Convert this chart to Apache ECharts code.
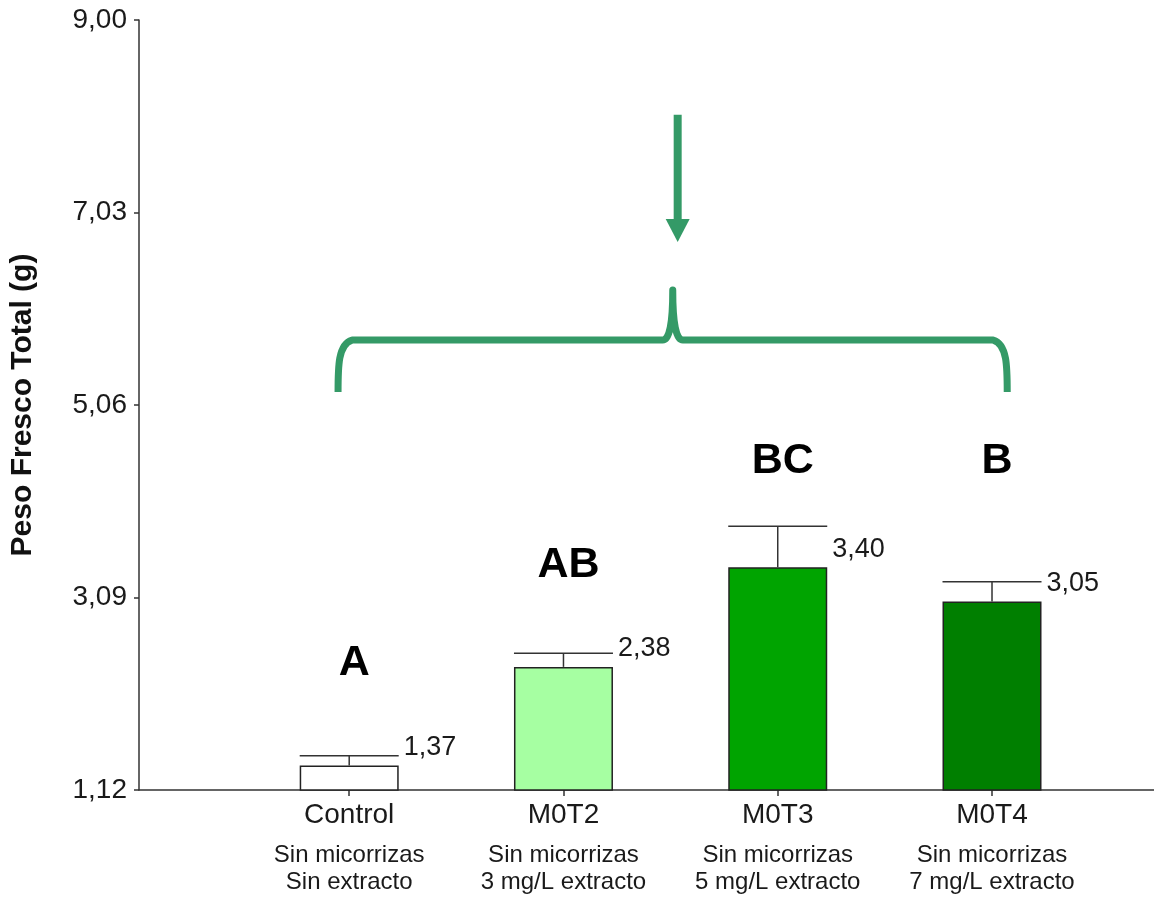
<!DOCTYPE html>
<html>
<head>
<meta charset="utf-8">
<script src="https://cdn.jsdelivr.net/npm/echarts@6/dist/echarts.min.js"></script>
<style>
  html, body { margin: 0; padding: 0; background: #ffffff; }
  #chart { width: 1154px; height: 901px; }
</style>
</head>
<body>
<div id="chart"></div>
<script>
// Peso fresco total por tratamiento (media ± error)
const categories = ['Control', 'M0T2', 'M0T3', 'M0T4'];
const treatmentLine1 = ['Sin micorrizas', 'Sin micorrizas', 'Sin micorrizas', 'Sin micorrizas'];
const treatmentLine2 = ['Sin extracto', '3 mg/L extracto', '5 mg/L extracto', '7 mg/L extracto'];
const meanWeight = [1.37, 2.38, 3.40, 3.05];
const errorWeight = [0.10, 0.14, 0.42, 0.20];
const groupLetters = ['A', 'AB', 'BC', 'B'];
const yTicks = [1.12, 3.09, 5.06, 7.03, 9.00];

// Styling
const barColors = ['#ffffff', '#a6ffa2', '#00a400', '#007f00'];
const accent = '#349a67';
const FONT = '"Liberation Sans", Arial, Helvetica, sans-serif';
const BAR_W = 99;

// Annotation anchors in data units (letters, brace, arrow)
const letterLevel = [2.42, 3.42, 4.49, 4.49];
const brace = { left: 0.948, right: 4.071, mid: 2.51, bar: 5.725, end: 5.193, peak: 6.237 };
const arrow = { x: 2.533, top: 8.03, tip: 6.728 };

const fmt = v => v.toFixed(2).replace('.', ',');
const xPos = categories.map((c, i) => i + 1);

const chart = echarts.init(document.getElementById('chart'), null, { renderer: 'canvas' });

const option = {
  animation: false,
  backgroundColor: '#ffffff',
  textStyle: { fontFamily: FONT },
  grid: { left: 138, right: 0, top: 20, bottom: 111, containLabel: false },
  xAxis: {
    type: 'value',
    min: 0.019,
    max: 4.756,
    splitLine: { show: false },
    axisLine: { show: true, lineStyle: { color: '#333', width: 1.5 } },
    axisTick: { show: true, customValues: xPos, length: 6, inside: false, lineStyle: { color: '#333', width: 1.5 } },
    axisLabel: {
      show: true,
      customValues: xPos,
      margin: -2,
      formatter: v => {
        const i = Math.round(v) - 1;
        return '{a|' + categories[i] + '}\n{b|' + treatmentLine1[i] + '}\n{b|' + treatmentLine2[i] + '}';
      },
      rich: {
        a: { fontSize: 28, lineHeight: 54, color: '#1a1a1a', fontFamily: FONT },
        b: { fontSize: 24, lineHeight: 27, color: '#1a1a1a', fontFamily: FONT }
      }
    }
  },
  yAxis: {
    type: 'value',
    min: 1.12,
    max: 9.00,
    name: 'Peso Fresco Total (g)',
    nameLocation: 'middle',
    nameGap: 101,
    nameRotate: 90,
    nameTextStyle: { fontSize: 30, fontWeight: 'bold', color: '#111', fontFamily: FONT },
    splitLine: { show: false },
    axisLine: { show: true, lineStyle: { color: '#333', width: 1.5 } },
    axisTick: { show: true, customValues: yTicks, length: 5, inside: false, lineStyle: { color: '#333', width: 1.5 } },
    axisLabel: {
      show: true,
      customValues: yTicks,
      margin: 12,
      formatter: v => fmt(v),
      fontSize: 28,
      color: '#1a1a1a',
      fontFamily: FONT
    }
  },
  series: [
    {
      type: 'bar',
      name: 'Peso fresco',
      barWidth: BAR_W,
      clip: true,
      data: meanWeight.map((v, i) => ({
        value: [xPos[i], v],
        itemStyle: { color: barColors[i] }
      })),
      itemStyle: { borderColor: '#222', borderWidth: 1.5 },
      z: 2
    },
    {
      // error bars with the mean value written beside each bar
      type: 'custom',
      name: 'Error',
      data: meanWeight.map((v, i) => [xPos[i], v, errorWeight[i]]),
      renderItem: (params, api) => {
        const x = api.value(0), v = api.value(1), e = api.value(2);
        const base = api.coord([x, v]);
        const top = api.coord([x, v + e]);
        const half = BAR_W / 2;
        const stroke = { stroke: '#333', lineWidth: 1.5 };
        return {
          type: 'group',
          children: [
            { type: 'line', shape: { x1: base[0], y1: base[1], x2: top[0], y2: top[1] }, style: stroke },
            { type: 'line', shape: { x1: top[0] - half, y1: top[1], x2: top[0] + half, y2: top[1] }, style: stroke },
            {
              type: 'text',
              x: base[0] + half + 5,
              y: base[1] - 18,
              style: {
                text: fmt(v), fill: '#1a1a1a', fontSize: 27, fontFamily: FONT,
                align: 'left', verticalAlign: 'middle'
              }
            }
          ]
        };
      },
      z: 3
    },
    {
      // significance group letters
      type: 'custom',
      name: 'Grupos',
      data: groupLetters.map((g, i) => [xPos[i], letterLevel[i], i]),
      renderItem: (params, api) => {
        const p = api.coord([api.value(0), api.value(1)]);
        return {
          type: 'text',
          x: p[0] + 5,
          y: p[1],
          style: {
            text: groupLetters[api.value(2)], fill: '#000', fontSize: 43, fontWeight: 'bold',
            fontFamily: FONT, align: 'center', verticalAlign: 'middle'
          }
        };
      },
      z: 4
    },
    {
      // curly brace grouping the treatments and the arrow above it
      type: 'custom',
      name: 'Llave',
      data: [[0]],
      renderItem: (params, api) => {
        const L = api.coord([brace.left, brace.bar])[0];
        const R = api.coord([brace.right, brace.bar])[0];
        const M = api.coord([brace.mid, brace.bar])[0];
        const H = api.coord([brace.left, brace.bar])[1];
        const E = api.coord([brace.left, brace.end])[1];
        const P = api.coord([brace.mid, brace.peak])[1];
        const r = 14;
        const d = [
          'M', L, E, 'C', L, E - 25, L, H + 4, L + r, H,
          'L', M - 10, H, 'Q', M, H, M, P, 'Q', M, H, M + 10, H,
          'L', R - r, H, 'C', R, H + 4, R, E - 25, R, E
        ].join(' ');
        const ax = api.coord([arrow.x, arrow.top]);
        const tip = api.coord([arrow.x, arrow.tip]);
        const headH = 23, headW = 12;
        return {
          type: 'group',
          children: [
            {
              type: 'path',
              shape: { pathData: d },
              style: { stroke: accent, lineWidth: 7, fill: 'none', lineJoin: 'round', lineCap: 'butt' }
            },
            {
              type: 'line',
              shape: { x1: ax[0], y1: ax[1], x2: tip[0], y2: tip[1] - headH + 2 },
              style: { stroke: accent, lineWidth: 8 }
            },
            {
              type: 'polygon',
              shape: { points: [[tip[0] - headW, tip[1] - headH], [tip[0] + headW, tip[1] - headH], [tip[0], tip[1]]] },
              style: { fill: accent }
            }
          ]
        };
      },
      z: 5
    }
  ]
};

chart.setOption(option);
</script>
</body>
</html>
